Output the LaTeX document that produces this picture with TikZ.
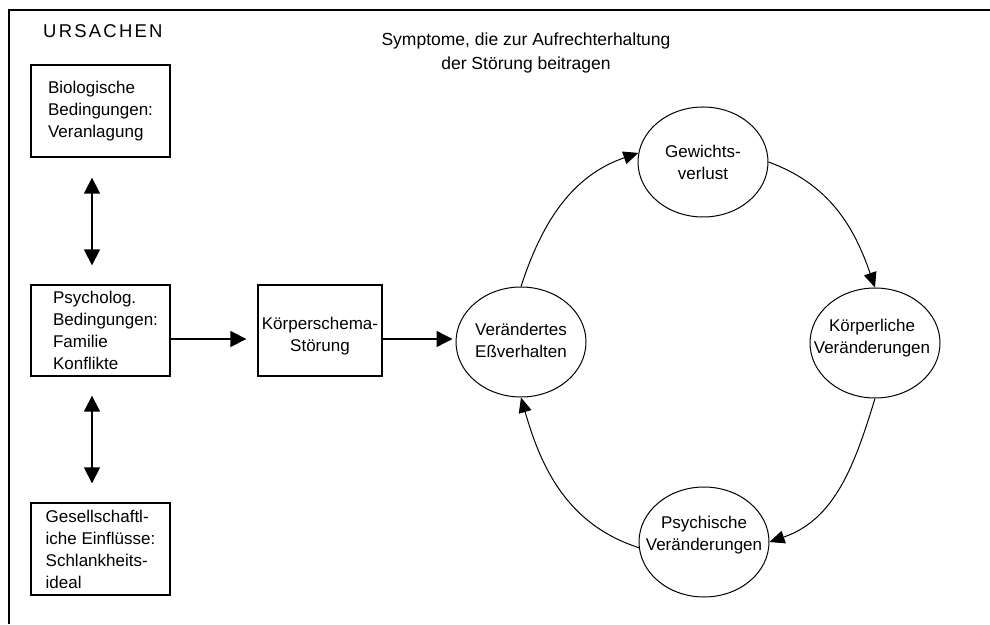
\documentclass[tikz,border=0pt]{standalone}
\usepackage{fontspec}
\setmainfont{Liberation Sans}
\newfontfamily\spacedfont[LetterSpace=12]{Liberation Sans}
\usetikzlibrary{arrows.meta,shapes.geometric}
\begin{document}
\begin{tikzpicture}[x=1pt,y=1pt,
  box/.style={draw, line width=1.3pt, rectangle, inner sep=0pt},
  boxtxt/.style={font=\fontsize{17}{22}\selectfont, align=left, inner sep=0pt},
  cyc/.style={draw, line width=1pt, ellipse, inner sep=0pt, minimum width=130pt, minimum height=110pt},
  cyctxt/.style={font=\fontsize{17}{22}\selectfont, align=center, inner sep=0pt},
  bigarrow/.style={line width=1.4pt, -{Triangle[length=16pt,width=16pt]}},
  dblarrow/.style={line width=1.4pt, {Triangle[length=16pt,width=16pt]}-{Triangle[length=16pt,width=16pt]}},
  arcarrow/.style={line width=1pt, -{Triangle[length=15pt,width=13pt]}}
]
\useasboundingbox (0,0) rectangle (990,624);
\fill[white] (0,0) rectangle (990,624);
\draw[line width=2.5pt] (9,0) -- (9,614) -- (990,614);

\node[anchor=west, font=\spacedfont\fontsize{18.5}{22}\selectfont, inner sep=0pt] (urs) at (43,593) {URSACHEN};
\node[align=center, font=\fontsize{17.5}{24}\selectfont, inner sep=0pt] (title) at (526,571) {Symptome, die zur Aufrechterhaltung\\der Störung beitragen};

\node[box, minimum width=139pt, minimum height=92pt, label={[boxtxt]center:{Biologische\\Bedingungen:\\Veranlagung}}] (bio) at (100.5,513) {};
\node[box, minimum width=139pt, minimum height=91pt, label={[boxtxt,xshift=5pt]center:{Psycholog.\\Bedingungen:\\Familie\\Konflikte}}] (psy) at (100.5,293.5) {};
\node[box, minimum width=139pt, minimum height=92pt, label={[boxtxt]center:{Gesellschaftl-\\iche Einflüsse:\\Schlankheits-\\ideal}}] (ges) at (100.5,75) {};
\node[box, minimum width=124pt, minimum height=91pt, label={[cyctxt,yshift=-6pt]center:{Körperschema-\\Störung}}] (koe) at (320,293.5) {};

\node[cyc, label={[cyctxt,yshift=2pt]center:{Verändertes\\Eßverhalten}}] (ver) at (521,282) {};
\node[cyc, label={[cyctxt]center:{Gewichts-\\verlust}}] (gew) at (703,462) {};
\node[cyc, label={[cyctxt,yshift=4.5pt,xshift=-3pt]center:{Körperliche\\Veränderungen}}] (kor) at (875,281) {};
\node[cyc, label={[cyctxt,yshift=7pt]center:{Psychische\\Veränderungen}}] (psc) at (704,82) {};

\draw[dblarrow, shorten <=20pt, shorten >=19pt] ([xshift=-8.5pt]bio.south) -- ([xshift=-8.5pt]psy.north);
\draw[dblarrow, shorten <=19pt, shorten >=19pt] ([xshift=-8.5pt]psy.south) -- ([xshift=-8.5pt]ges.north);
\draw[bigarrow, shorten >=11pt] ([yshift=-8.5pt]psy.east) -- ([yshift=-8.5pt]psy.east -| koe.west);
\draw[bigarrow, shorten >=3pt] ([yshift=-8.5pt]koe.east) -- ([yshift=-8.5pt]koe.east -| ver.west);

\draw[arcarrow] (ver.north) to[out=72,in=199] (gew.172);
\draw[arcarrow] (gew.east) to[out=-20,in=109] (kor.north);
\draw[arcarrow] (kor.south) to[out=253,in=19] (psc.east);
\draw[arcarrow] (psc.185) to[out=162,in=-74] (ver.south);
\end{tikzpicture}
\end{document}
